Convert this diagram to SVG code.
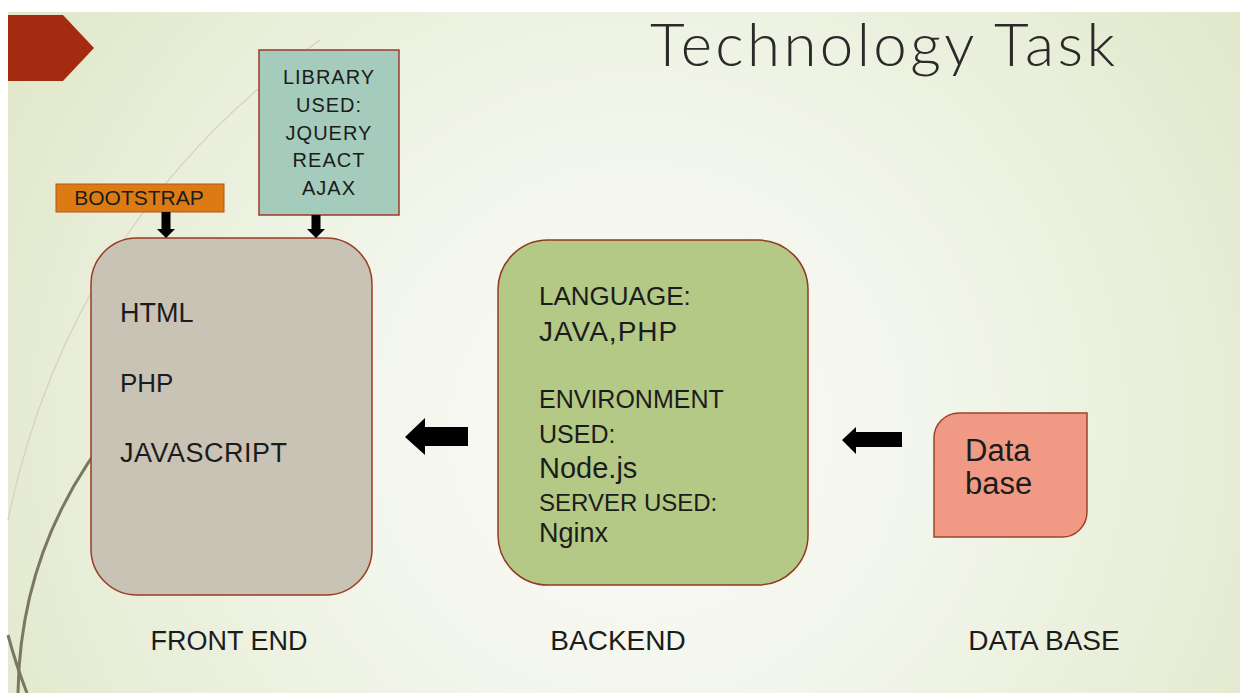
<svg xmlns="http://www.w3.org/2000/svg" width="1240" height="693" viewBox="0 0 1240 693">
<defs>
<radialGradient id="bg" cx="640" cy="430" r="800" gradientUnits="userSpaceOnUse">
<stop offset="0" stop-color="#fbfbf8"/>
<stop offset="0.35" stop-color="#f3f6ec"/>
<stop offset="0.7" stop-color="#e8eed8"/>
<stop offset="1" stop-color="#dfe5c4"/>
</radialGradient>
<style>
.t{font-family:"Liberation Sans",Arial,sans-serif;fill:#1c1c1c}
.arrow{fill:#000}
</style>
</defs>
<rect x="0" y="0" width="1240" height="693" fill="#ffffff"/>
<rect x="8" y="12" width="1232" height="681" fill="url(#bg)"/>
<path d="M8 520 Q70 220 320 40" fill="none" stroke="#d3d1bd" stroke-width="1.2"/>
<path d="M18 693 Q20 540 120 420" fill="none" stroke="#7b7762" stroke-width="3"/>
<path d="M8 635 Q16 665 27 693" fill="none" stroke="#7b7762" stroke-width="3"/>
<polygon points="8,15 63,15 94,48 63,81 8,81" fill="#a52b10"/>
<text x="650" y="66" font-size="60" font-family="Lato, 'Liberation Sans', sans-serif" font-weight="300" fill="#2a2a2a" textLength="465" lengthAdjust="spacing">Technology Task</text>

<g id="frontend">
<rect x="91" y="238" width="281" height="357" rx="46" ry="46" fill="#c9c3b6" stroke="#9b3b22" stroke-width="1.5"/>
<text class="t" x="120" y="322" font-size="27">HTML</text>
<text class="t" x="120" y="392" font-size="26">PHP</text>
<text class="t" x="120" y="462" font-size="27" letter-spacing="0.5">JAVASCRIPT</text>
<text class="t" x="229" y="650" font-size="27" text-anchor="middle">FRONT END</text>
</g>

<g id="bootstrap">
<rect x="56" y="184" width="168" height="28" fill="#dc7b13" stroke="#b0561c" stroke-width="1"/>
<text class="t" x="139" y="205" font-size="21" text-anchor="middle">BOOTSTRAP</text>
</g>

<g id="library">
<rect x="259" y="50" width="140" height="165" fill="#a4cbbb" stroke="#9e3a2a" stroke-width="1.5"/>
<g font-size="20" text-anchor="middle" letter-spacing="1">
<text class="t" x="329" y="84">LIBRARY</text>
<text class="t" x="329" y="112">USED:</text>
<text class="t" x="329" y="140">JQUERY</text>
<text class="t" x="329" y="167">REACT</text>
<text class="t" x="329" y="195">AJAX</text>
</g>
</g>

<g id="backend">
<rect x="498" y="240" width="310" height="345" rx="50" ry="50" fill="#b4c985" stroke="#8f3a22" stroke-width="1.5"/>
<text class="t" x="539" y="305" font-size="26">LANGUAGE:</text>
<text class="t" x="539" y="341" font-size="28" letter-spacing="1">JAVA,PHP</text>
<text class="t" x="539" y="408" font-size="25">ENVIRONMENT</text>
<text class="t" x="539" y="443" font-size="25">USED:</text>
<text class="t" x="539" y="478" font-size="29">Node.js</text>
<text class="t" x="539" y="511" font-size="24">SERVER USED:</text>
<text class="t" x="539" y="542" font-size="27">Nginx</text>
<text class="t" x="618" y="650" font-size="28" text-anchor="middle">BACKEND</text>
</g>

<g id="database">
<path d="M959 413 H1087 V512 A25 25 0 0 1 1062 537 H934 V438 A25 25 0 0 1 959 413 Z" fill="#f09a86" stroke="#a0412a" stroke-width="1.5"/>
<text class="t" x="965" y="461" font-size="31">Data</text>
<text class="t" x="965" y="494" font-size="31">base</text>
<text class="t" x="1044" y="650" font-size="28" text-anchor="middle">DATA BASE</text>
</g>

<g id="connectors">
<polygon class="arrow" points="161.5,212 170.5,212 170.5,229 175,229 166,238 157,229 161.5,229"/>
<polygon class="arrow" points="311.5,215 320.5,215 320.5,229 325,229 316,238 307,229 311.5,229"/>
<polygon class="arrow" points="468,427 425,427 425,418 405,437 425,455 425,446 468,446"/>
<polygon class="arrow" points="902,432 856,432 856,427 842,440 856,454 856,447 902,447"/>
</g>
</svg>
